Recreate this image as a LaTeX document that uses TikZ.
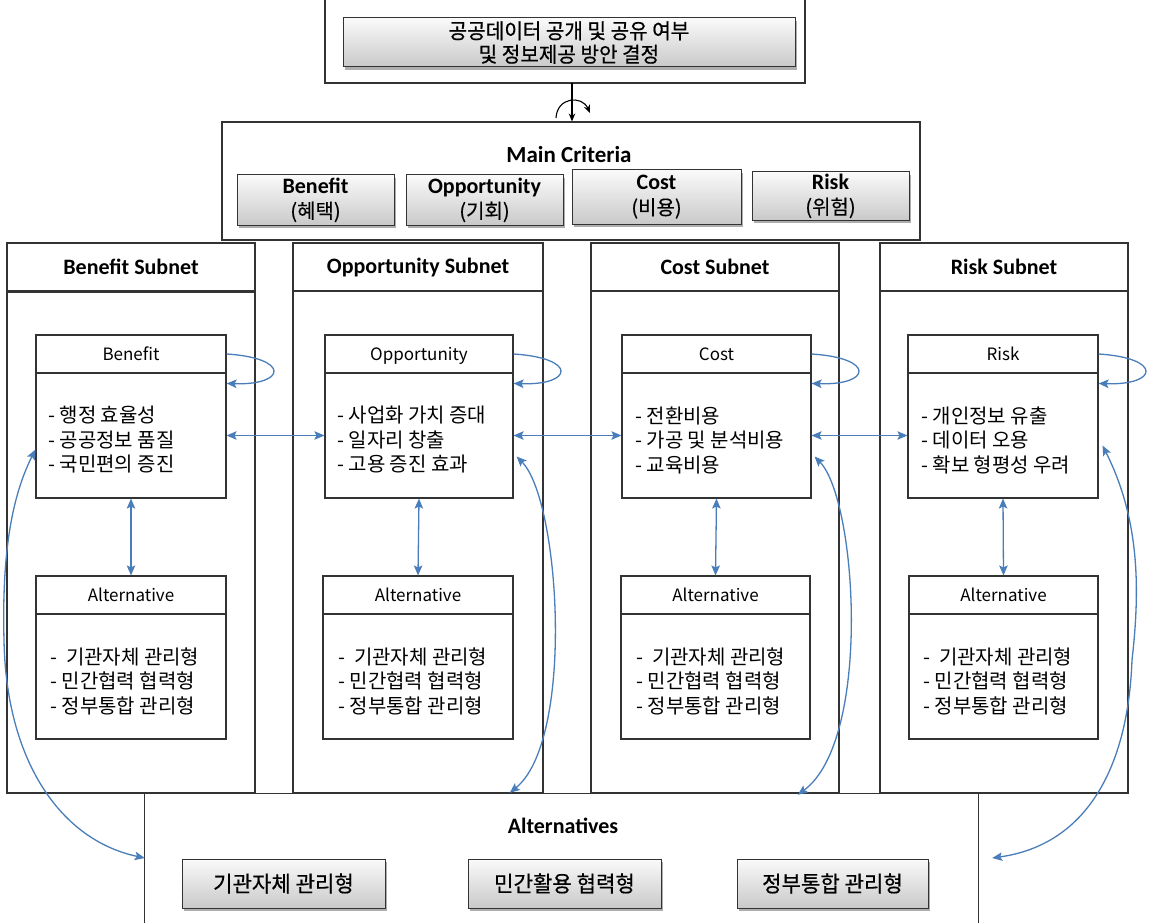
\documentclass[tikz,border=0pt]{standalone}
\usepackage{fontspec}
\setmainfont{Carlito}
\newfontfamily\kr{Noto Sans CJK KR}
\newfontfamily\krc[FakeStretch=0.96,FakeBold=0.5]{Noto Sans CJK KR}
\newfontfamily\krm[FakeBold=0.3]{Noto Sans CJK KR}
\newcommand\krsubfont{\krm\mdseries\fontsize{20}{22}\selectfont}
\usetikzlibrary{arrows.meta,shadows,fit,calc}
\definecolor{arr}{HTML}{4A7EBB}
\definecolor{ln}{HTML}{333333}
\tikzset{
  btip/.tip={Stealth[length=10pt,width=8.5pt,inset=2pt]},
  ktip/.tip={Stealth[length=8pt,width=6.5pt]}
}
\begin{document}
\begin{tikzpicture}[x=1pt,y=-1pt,
  frame/.style={draw=ln, line width=1.1pt, inner sep=0pt},
  gbox/.style={draw=ln, line width=1pt, inner sep=0pt, top color=gray!4, bottom color=gray!42,
     drop shadow={shadow xshift=2pt, shadow yshift=-3pt, opacity=0.45, fill=black!70}},
  bfhead/.style={font=\bfseries\fontsize{22}{26}\selectfont},
  crittxt/.style={align=center, inner sep=0pt, font=\bfseries\fontsize{22}{25}\selectfont},
  boxhead/.style={font=\kr\fontsize{17}{20}\selectfont},
  bodytxt/.style={anchor=west, align=left, inner sep=0pt, font=\kr\fontsize{20}{24.5}\selectfont},
  alttxt/.style={font=\krc\fontsize{22}{26}\selectfont},
  barr/.style={draw=arr, line width=1.3pt}
]
\useasboundingbox (0,0) rectangle (1149,923);
\fill[white] (0,0) rectangle (1149,923);

% ---------- top goal ----------
\draw[ln, line width=1.1pt] (325,0) -- (325,83) -- (805,83) -- (805,0);
\coordinate (tf) at (572,83);
\node[gbox, fit={(343,18) (795,67)}] (goal) {};
\node[align=center, inner sep=0pt, font=\krc\fontsize{21}{23.5}\selectfont] (goalT) at (goal) {공공데이터 공개 및 공유 여부\\및 정보제공 방안 결정};

% ---------- main criteria ----------
\node[frame, fit={(222,122) (920,240)}] (crit) {};
\node[font=\bfseries\fontsize{23}{26}\selectfont] (critT) at (569,155) {Main Criteria};
\node[gbox, fit={(237,175) (394,225)}] (cB) {};
\node[gbox, fit={(406,175) (563,225)}] (cO) {};
\node[gbox, fit={(572,170) (741,224)}] (cC) {};
\node[gbox, fit={(752,172) (909,220)}] (cR) {};
\node[crittxt] (cBt) at (cB) {Benefit\\{\krsubfont (혜택)}};
\node[crittxt] (cOt) at (cO) {Opportunity\\{\krsubfont (기회)}};
\node[crittxt] (cCt) at (cC) {Cost\\{\krsubfont (비용)}};
\node[crittxt] (cRt) at (cR) {Risk\\{\krsubfont (위험)}};

\draw[black, line width=1.1pt, -{ktip}] (tf) -- (tf |- crit.north);
\draw[black, line width=1.1pt, -{ktip}] (556,118) .. controls (557,97) and (582,95) .. (590,113);

% ---------- subnet columns ----------
\node[frame, fit={(7,243) (255,793)}] (bcol) {};
\node[frame, fit={(293,243) (543,793)}] (ocol) {};
\node[frame, fit={(591,243) (839,793)}] (ccol) {};
\node[frame, fit={(880,243) (1128,793)}] (rcol) {};
\node[frame, fit={(7,243) (255,291)}] (bhd) {};
\draw[ln, line width=2pt] (bhd.south west) -- (bhd.south east);
\node[frame, fit={(293,243) (543,291)}] (ohd) {};
\node[frame, fit={(591,243) (839,291)}] (chd) {};
\node[frame, fit={(880,243) (1128,291)}] (rhd) {};
\node[bfhead] (bhdT) at (bhd) {Benefit Subnet};
\node[bfhead] (ohdT) at ([yshift=-1pt]ohd.center) {Opportunity Subnet};
\node[bfhead] (chdT) at (chd) {Cost Subnet};
\node[bfhead] (rhdT) at (rhd) {Risk Subnet};
\draw[ln, line width=1.1pt] (bcol.south west) -- (rcol.south east);

% ---------- inner boxes ----------
% Benefit
\node[frame, fit={(36,335) (226,373)}] (bH) {};
\node[boxhead] (bHt) at (bH) {Benefit};
\node[frame, fit={(36,373) (226,498)}] (bB) {};
\node[bodytxt] (bBt) at (48,440) {- 행정 효율성\\- 공공정보 품질\\- 국민편의 증진};
\node[frame, fit={(36,576) (226,614)}] (bAH) {};
\node[boxhead] (bAHt) at (bAH) {Alternative};
\node[frame, fit={(36,614) (226,739)}] (bAB) {};
\node[bodytxt] (bABt) at (50,681) {-\ \ 기관자체 관리형\\- 민간협력 협력형\\- 정부통합 관리형};
% Opportunity
\node[frame, fit={(325,335) (513,373)}] (oH) {};
\node[boxhead, anchor=base] (oHt) at ([yshift=-6pt]oH.center) {Opportunity};
\node[frame, fit={(325,373) (513,498)}] (oB) {};
\node[bodytxt] (oBt) at (337,440) {- 사업화 가치 증대\\- 일자리 창출\\- 고용 증진 효과};
\node[frame, fit={(323,576) (513,614)}] (oAH) {};
\node[boxhead] (oAHt) at (oAH) {Alternative};
\node[frame, fit={(323,614) (513,739)}] (oAB) {};
\node[bodytxt] (oABt) at (338,681) {-\ \ 기관자체 관리형\\- 민간협력 협력형\\- 정부통합 관리형};
% Cost
\node[frame, fit={(622,335) (811,373)}] (cH) {};
\node[boxhead] (cHt) at (cH) {Cost};
\node[frame, fit={(622,373) (811,498)}] (cBx) {};
\node[bodytxt] (cBt) at (635,440) {- 전환비용\\- 가공 및 분석비용\\- 교육비용};
\node[frame, fit={(621,576) (810,614)}] (cAH) {};
\node[boxhead] (cAHt) at (cAH) {Alternative};
\node[frame, fit={(621,614) (810,739)}] (cAB) {};
\node[bodytxt] (cABt) at (636,681) {-\ \ 기관자체 관리형\\- 민간협력 협력형\\- 정부통합 관리형};
% Risk
\node[frame, fit={(908,335) (1098,373)}] (rH) {};
\node[boxhead] (rHt) at (rH) {Risk};
\node[frame, fit={(908,373) (1098,498)}] (rB) {};
\node[bodytxt] (rBt) at (921,440) {- 개인정보 유출\\- 데이터 오용\\- 확보 형평성 우려};
\node[frame, fit={(909,576) (1098,614)}] (rAH) {};
\node[boxhead] (rAHt) at (rAH) {Alternative};
\node[frame, fit={(909,614) (1098,739)}] (rAB) {};
\node[bodytxt] (rABt) at (923,681) {-\ \ 기관자체 관리형\\- 민간협력 협력형\\- 정부통합 관리형};

% ---------- alternatives ----------
\node[inner sep=0pt, fit={(145,793) (978,923)}] (alts) {};
\draw[ln, line width=1.1pt] (alts.north west) -- (alts.south west);
\draw[ln, line width=1.1pt] (alts.north east) -- (alts.south east);
\node[bfhead] (altT) at (563,826) {Alternatives};
\node[gbox, fit={(182,859) (385,908)}] (a1) {};
\node[gbox, fit={(468,859) (661,908)}] (a2) {};
\node[gbox, fit={(737,859) (928,908)}] (a3) {};
\node[alttxt] (a1t) at (a1) {기관자체 관리형};
\node[alttxt] (a2t) at (a2) {민간활용 협력형};
\node[alttxt] (a3t) at (a3) {정부통합 관리형};

% ---------- blue connectors ----------
\foreach \h/\b in {bH/bB, oH/oB, cH/cBx, rH/rB}{
  \draw[barr, -{btip}] (\h.east) .. controls +(64,4) and +(60,2) .. ([yshift=-11pt]\b.north east);
}
\draw[barr, {btip}-{btip}] (bB.east) -- (oB.west);
\draw[barr, {btip}-{btip}] (oB.east) -- (cBx.west);
\draw[barr, {btip}-{btip}] (cBx.east) -- (rB.west);
\draw[barr, {btip}-{btip}] (bB.south) -- (bAH.north);
\draw[barr, {btip}-{btip}] (oB.south) -- (oAH.north);
\draw[barr, {btip}-{btip}] (cBx.south) -- (cAH.north);
\draw[barr, {btip}-{btip}] (rB.south) -- (rAH.north);

\draw[barr, {btip}-{btip}] ([yshift=-14pt]bB.west) .. controls (10,500) and (2,560) .. (4,640)
   .. controls (6,760) and (60,840) .. (alts.west);
\draw[barr, {btip}-{btip}] ([xshift=3pt,yshift=-21pt]oB.east) .. controls (560,500) and (575,740) .. ($(alts.north west)+(365,0)$);
\draw[barr, {btip}-{btip}] ([xshift=3pt,yshift=-21pt]cBx.east) .. controls (857,500) and (872,740) .. ($(alts.north west)+(653,2)$);
\draw[barr, {btip}-{btip}] ([xshift=4pt,yshift=-10pt]rB.east) .. controls (1140,520) and (1140,590) .. (1132,660)
   .. controls (1128,770) and (1085,845) .. ([xshift=14pt]alts.east);
\end{tikzpicture}
\end{document}
